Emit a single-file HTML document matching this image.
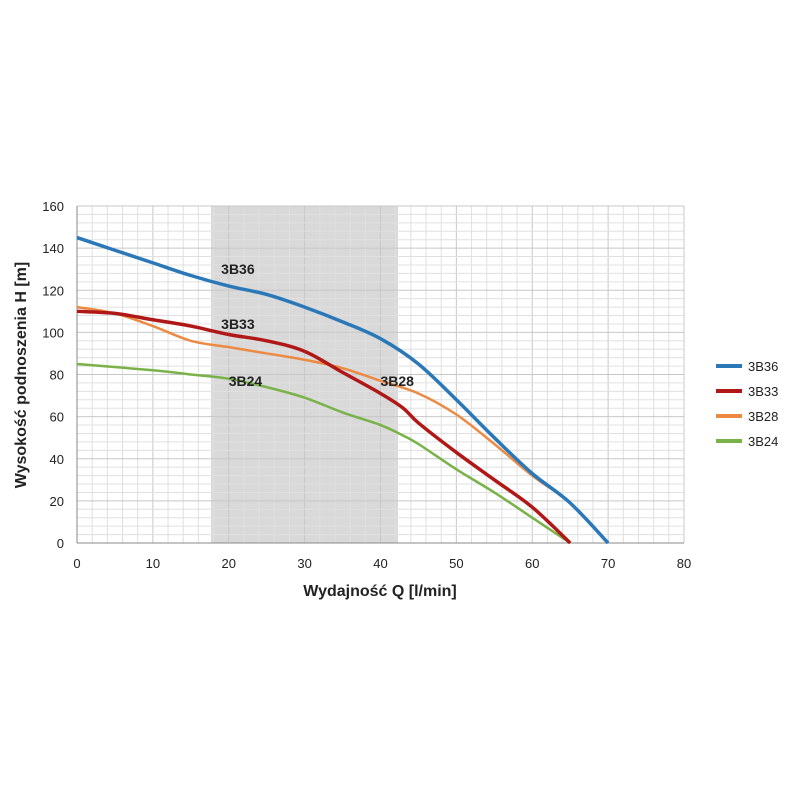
<!DOCTYPE html>
<html><head><meta charset="utf-8"><style>
body{margin:0;background:#fff;}
svg{display:block;font-family:"Liberation Sans",sans-serif;}
</style></head><body>
<svg id="chart" width="800" height="800">
<rect x="211" y="206" width="187" height="337" fill="#d9d9d9"/>
<g id="grid"></g><g id="axes"></g><g id="series"></g><g id="legend"></g>
<text x="26" y="375" transform="rotate(-90 26 375)" text-anchor="middle" font-size="16" font-weight="bold" fill="#222">Wysokość podnoszenia H [m]</text>
<text x="380" y="596" text-anchor="middle" font-size="16" font-weight="bold" fill="#222">Wydajność Q [l/min]</text>
</svg>
<script>
const xTicks=[0,10,20,30,40,50,60,70,80];
const yTicks=[0,20,40,60,80,100,120,140,160];
const seriesNames=["3B36","3B33","3B28","3B24"];
const seriesColors=["#2b78b8","#b01818","#ec8a44","#7ab24a"];
const q36=[0,5,10,15,20,25,30,35,40,45,50,55,60,65,70];
const h36=[145,139,133,127,122,118,112,105,97,85,68,50,33,19,0];
const q33=[0,5,10,15,20,25,30,35,40,43,45,50,55,60,65];
const h33=[110,109,106,103,99,96,91,81,71,64,57,43,30,17,0];
const q28=[0,5,10,15,20,25,30,35,40,45,50,55,60,65,70];
const h28=[112,109,103,96,93,90,87,83,77,71,61,47,32,19,0];
const q24=[0,10,15,20,25,30,35,40,43,45,50,55,60,65];
const h24=[85,82,80,78,74,69,62,56,51,47,35,24,12,0];
const labelPos=[[19,130],[19,104],[40,77],[20,77]];
const X=v=>77+v*(684-77)/80, Y=v=>543-v*(543-206)/160;
const NS="http://www.w3.org/2000/svg";
function mk(t,a,p){const e=document.createElementNS(NS,t);for(const k in a)e.setAttribute(k,a[k]);p.appendChild(e);return e;}
const g=document.getElementById('grid');
for(let v=0;v<=80;v+=2){const l=mk('line',{x1:X(v),x2:X(v),y1:206,y2:543,stroke:v%10?'#e0e0e0':'#c8c8c8','stroke-width':1},g);

}
for(let v=0;v<=160;v+=4){const l=mk('line',{x1:77,x2:684,y1:Y(v),y2:Y(v),stroke:v%20?'#e0e0e0':'#c8c8c8','stroke-width':1},g);

}
const a=document.getElementById('axes');
mk('line',{x1:77,x2:77,y1:206,y2:543,stroke:'#888'},a);
mk('line',{x1:77,x2:684,y1:543,y2:543,stroke:'#888'},a);
xTicks.forEach(v=>{const t=mk('text',{x:X(v),y:568,'text-anchor':'middle','font-size':13,fill:'#222'},a);t.textContent=v;

});
yTicks.forEach(v=>{const t=mk('text',{x:64,y:Y(v)+5,'text-anchor':'end','font-size':13,fill:'#222'},a);t.textContent=v;

});
const data=[[q36,h36],[q33,h33],[q28,h28],[q24,h24]];
const s=document.getElementById('series');
function smooth(pts){let d=`M${pts[0][0]},${pts[0][1]}`;for(let i=0;i<pts.length-1;i++){const p0=pts[i-1]||pts[i],p1=pts[i],p2=pts[i+1],p3=pts[i+2]||p2;
d+=` C${p1[0]+(p2[0]-p0[0])/6},${p1[1]+(p2[1]-p0[1])/6} ${p2[0]-(p3[0]-p1[0])/6},${p2[1]-(p3[1]-p1[1])/6} ${p2[0]},${p2[1]}`;}return d;}
[3,2,1,0].forEach(i=>{const [q,h]=data[i];const pts=q.map((v,j)=>[X(v),Y(h[j])]);
const p=mk('path',{d:smooth(pts),fill:'none',stroke:seriesColors[i],'stroke-width':i==0||i==1?3.5:2.5},s);

});
seriesNames.forEach((n,i)=>{const t=mk('text',{x:X(labelPos[i][0]),y:Y(labelPos[i][1])+5,'font-size':14,'font-weight':'bold',fill:'#222'},s);t.textContent=n;

});
const lg=document.getElementById('legend');
seriesNames.forEach((n,i)=>{const y=366+i*25;
const l=mk('line',{x1:716,x2:742,y1:y,y2:y,stroke:seriesColors[i],'stroke-width':4},lg);


const t=mk('text',{x:748,y:y+5,'font-size':13,fill:'#222'},lg);t.textContent=n;

});
</script>
</body></html>
